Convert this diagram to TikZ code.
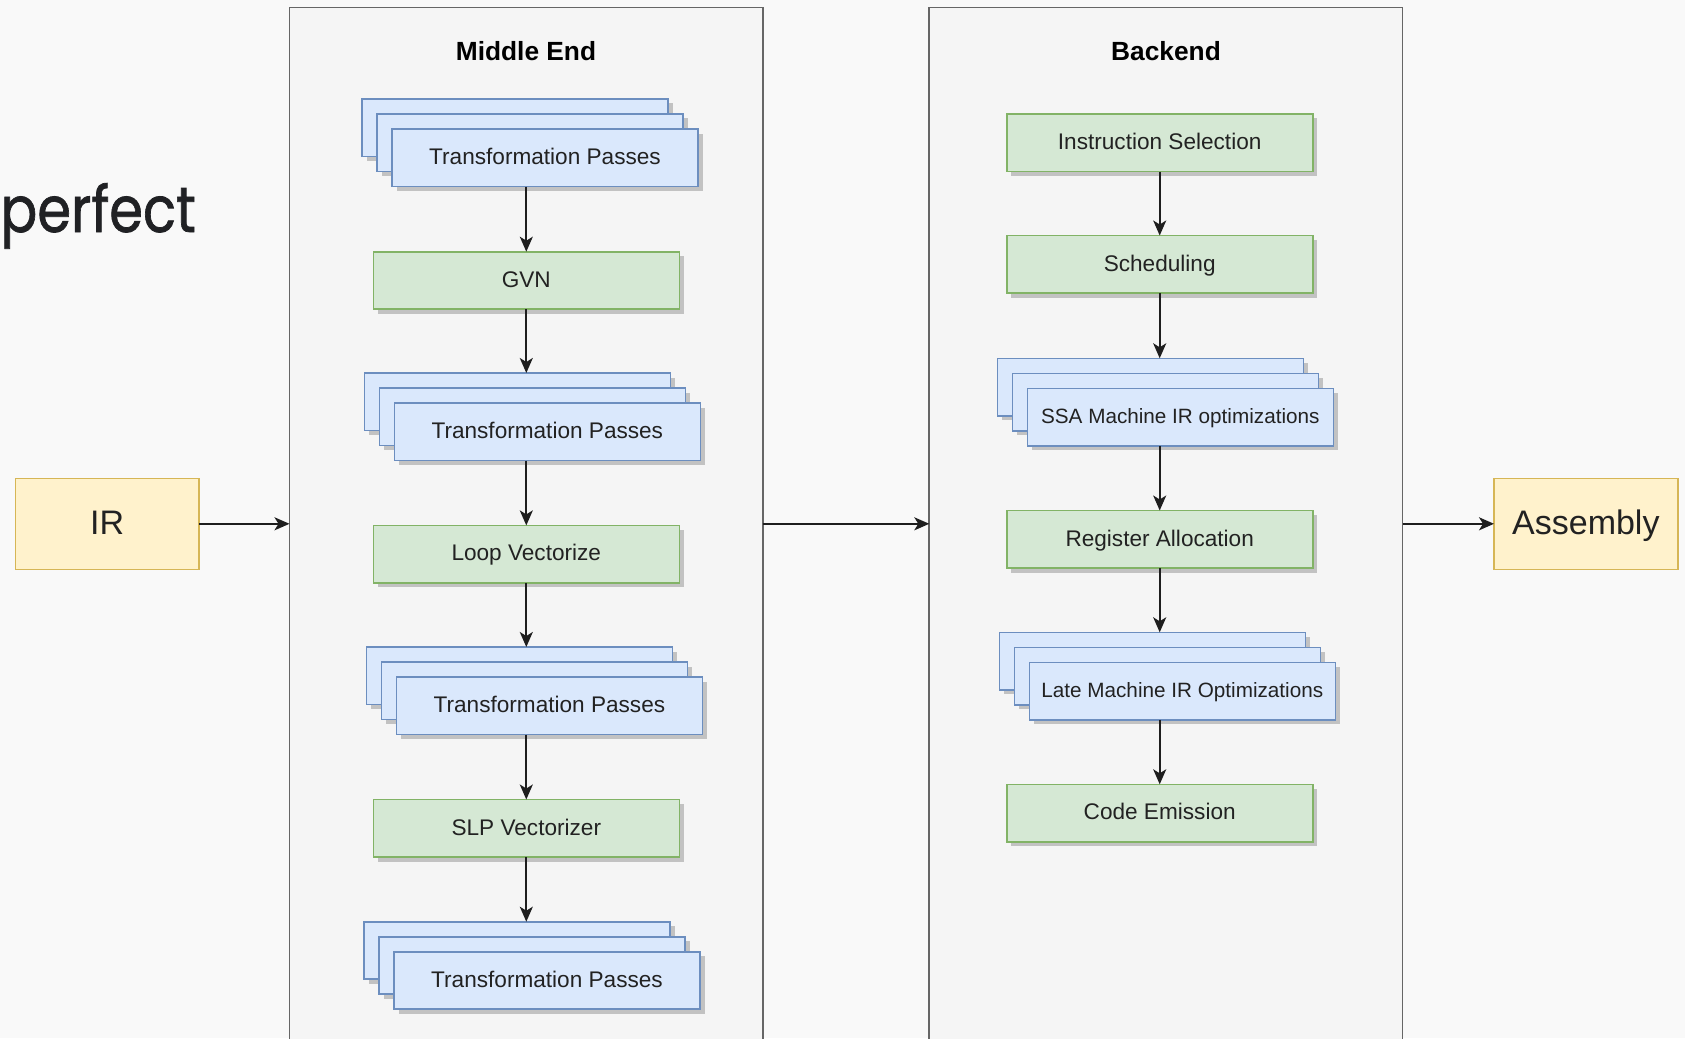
\documentclass[tikz,border=0pt]{standalone}
\usepackage{fontspec}
\setmainfont{Liberation Sans}
\newfontfamily\perfectfont[FakeBold=1.2]{Poppins}
\usetikzlibrary{arrows.meta}
\definecolor{bgc}{HTML}{F9F9F9}
\definecolor{contfill}{HTML}{F5F5F5}
\definecolor{contline}{HTML}{666666}
\definecolor{gfill}{HTML}{D5E8D4}
\definecolor{gline}{HTML}{82B366}
\definecolor{bfill}{HTML}{DAE8FC}
\definecolor{bline}{HTML}{6C8EBF}
\definecolor{yfill}{HTML}{FFF2CC}
\definecolor{yline}{HTML}{D6B656}
\definecolor{shadowc}{HTML}{C2C2C2}
\definecolor{txt}{HTML}{222222}
\definecolor{arrc}{HTML}{1E1E1E}
\definecolor{perfc}{HTML}{202124}
\tikzset{
  dropshade/.style={preaction={fill=shadowc, draw=none, transform canvas={shift={(4.5pt,-4.5pt)}}}},
  box/.style={draw, line width=1.6pt, inner sep=0pt, outer sep=0pt,
    minimum width=306pt, minimum height=57.5pt, anchor=north west, text=txt,
    font=\fontsize{22.6}{27}\selectfont, text height=17pt, text depth=3.5pt},
  greenbox/.style={box, fill=gfill, draw=gline, dropshade},
  bluebox/.style={box, fill=bfill, draw=bline, dropshade},
  smalltext/.style={font=\fontsize{20.7}{25}\selectfont, text height=15.5pt, text depth=3.2pt},
  yellowbox/.style={draw=yline, fill=yfill, line width=1.6pt, inner sep=0pt, outer sep=0pt,
    minimum width=183.7pt, minimum height=91pt, anchor=north west, text=txt,
    font=\fontsize{34}{40}\selectfont, text height=25.5pt, text depth=4.8pt},
  container/.style={draw=contline, fill=contfill, line width=1.8pt, inner sep=0pt, outer sep=0pt,
    minimum width=473.2pt, minimum height=1100pt, anchor=north west},
  ctitle/.style={anchor=base, font=\fontsize{26.3}{30}\selectfont\bfseries, text=black, inner sep=0pt},
  arr/.style={draw=arrc, line width=1.9pt, -{Stealth[length=15pt, width=13pt, inset=4pt]}}
}
\begin{document}
\begin{tikzpicture}[x=1pt, y=-1pt]
\useasboundingbox (0,0) rectangle (1685,1038);
\clip (0,0) rectangle (1685,1038);
\fill[bgc] (0,0) rectangle (1685,1038);

% stray text
\node[anchor=base east, inner sep=0pt, text=perfc, font=\perfectfont\fontsize{64}{70}\selectfont] (perfect) at (196,232) {\scalebox{0.85}[1]{perfect}};

% containers
\node[container] (midend) at (289.5,7.5) {};
\node[container] (backend) at (929.3,7.5) {};
\node[ctitle] (metitle) at (526,61) {Middle End};
\node[ctitle] (betitle) at (1166,60.7) {Backend};

% IR / Assembly
\node[yellowbox] (ir) at (15.3,478.3) {IR};
\node[yellowbox] (asm) at (1494,478.3) {Assembly};

% middle end column
\node[bluebox] (tp1a) at (362,99) {};
\node[bluebox] (tp1b) at (377,114) {};
\node[bluebox] (tp1) at (392,129) {Transformation Passes};

\node[greenbox] (gvn) at (373.3,251.7) {GVN};

\node[bluebox] (tp2a) at (364.3,373) {};
\node[bluebox] (tp2b) at (379.3,388) {};
\node[bluebox] (tp2) at (394.3,403) {Transformation Passes};

\node[greenbox] (loop) at (373.3,525.4) {Loop Vectorize};

\node[bluebox] (tp3a) at (366.4,647) {};
\node[bluebox] (tp3b) at (381.4,662) {};
\node[bluebox] (tp3) at (396.4,677) {Transformation Passes};

\node[greenbox] (slp) at (373.3,799.5) {SLP Vectorizer};

\node[bluebox] (tp4a) at (364,921.7) {};
\node[bluebox] (tp4b) at (379,936.7) {};
\node[bluebox] (tp4) at (394,951.7) {Transformation Passes};

% backend column
\node[greenbox] (isel) at (1006.7,114) {Instruction Selection};
\node[greenbox] (sched) at (1006.7,235.5) {Scheduling};

\node[bluebox] (ssaa) at (997.3,358.3) {};
\node[bluebox] (ssab) at (1012.3,373.3) {};
\node[bluebox, smalltext] (ssa) at (1027.3,388.3) {SSA Machine IR optimizations};

\node[greenbox] (ra) at (1006.7,510.5) {Register Allocation};

\node[bluebox] (lma) at (999.3,632.3) {};
\node[bluebox] (lmb) at (1014.3,647.3) {};
\node[bluebox, smalltext] (lm) at (1029.3,662.3) {Late Machine IR Optimizations};

\node[greenbox] (ce) at (1006.7,784.3) {Code Emission};

% connectors: middle end
\draw[arr] (tp1.south -| gvn.north) -- (gvn.north);
\draw[arr] (gvn.south) -- (gvn.south |- tp2a.north);
\draw[arr] (tp2.south -| loop.north) -- (loop.north);
\draw[arr] (loop.south) -- (loop.south |- tp3a.north);
\draw[arr] (tp3.south -| slp.north) -- (slp.north);
\draw[arr] (slp.south) -- (slp.south |- tp4a.north);

% connectors: backend
\draw[arr] (isel.south) -- (sched.north);
\draw[arr] (sched.south) -- (sched.south |- ssaa.north);
\draw[arr] (ssa.south -| ra.north) -- (ra.north);
\draw[arr] (ra.south) -- (ra.south |- lma.north);
\draw[arr] (lm.south -| ce.north) -- (ce.north);

% main flow
\draw[arr] (ir.east) -- (ir.east -| midend.west);
\draw[arr] (ir.east -| midend.east) -- (ir.east -| backend.west);
\draw[arr] (asm.west -| backend.east) -- (asm.west);
\end{tikzpicture}
\end{document}
